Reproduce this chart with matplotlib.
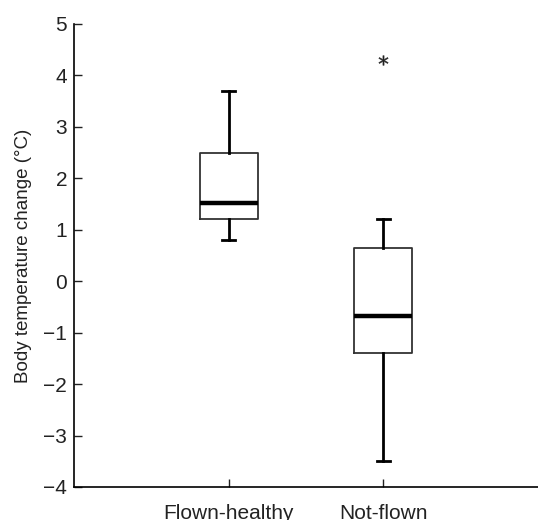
import matplotlib.pyplot as plt

plt.rcParams['font.family'] = ['Liberation Sans', 'DejaVu Sans']

groups = ['Flown-healthy', 'Not-flown']
whislo = [0.8, -3.5]
q1 = [1.2, -1.4]
med = [1.52, -0.68]
q3 = [2.5, 0.65]
whishi = [3.7, 1.2]
outliers = [[], [4.3]]

stats = []
for i in range(len(groups)):
    stats.append(dict(label=groups[i], whislo=whislo[i], q1=q1[i], med=med[i],
                      q3=q3[i], whishi=whishi[i], fliers=outliers[i]))

fig = plt.figure(figsize=(5.38, 5.20), dpi=100)
ax = fig.add_axes([0.1375, 0.0635, 0.8625, 0.8905])

ax.bxp(stats, positions=[1, 2], widths=0.375, capwidths=0.084,
       boxprops=dict(color='#333333', linewidth=1.3),
       medianprops=dict(color='black', linewidth=3.2),
       whiskerprops=dict(color='black', linewidth=2),
       capprops=dict(color='black', linewidth=2),
       flierprops=dict(marker='$*$', markersize=7, markerfacecolor='#222222',
                       markeredgecolor='#222222', markeredgewidth=0.3,
                       linestyle='none'))

ax.set_xlim(0, 3)
ax.set_ylim(-4, 5)
ax.set_yticks(range(-4, 6))
ax.set_yticklabels([str(v).replace('-', '\u2212') for v in range(-4, 6)])
ax.set_xticks([1, 2])
ax.set_xticklabels(groups)
ax.set_ylabel('Body temperature change (°C)', fontsize=13.5, color='#222222',
              labelpad=8)

ax.spines['top'].set_visible(False)
ax.spines['right'].set_visible(False)
ax.tick_params(axis='y', direction='in', length=6, width=1, labelsize=15,
               pad=5, colors='#222222')
ax.tick_params(axis='x', direction='in', length=6, width=1, labelsize=15,
               pad=12, colors='#222222')
ax.spines['left'].set_linewidth(1.2)
ax.spines['bottom'].set_linewidth(1.2)

fig.savefig('out.png', dpi=100)
